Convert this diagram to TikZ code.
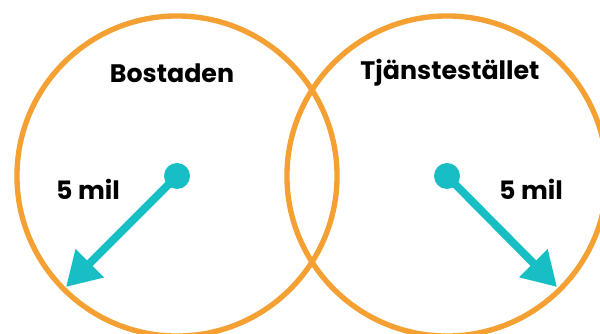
\documentclass[tikz,border=0pt]{standalone}
\usepackage{fontspec}
\setmainfont{Poppins}
\usetikzlibrary{arrows.meta}
\definecolor{ringorange}{HTML}{F5A033}
\definecolor{radiusteal}{HTML}{17BEC4}
\begin{document}
\begin{tikzpicture}[x=0.025cm,y=-0.025cm,font=\bfseries\fontsize{18}{21}\selectfont,line cap=round,line join=round]
  \clip (0,0) rectangle (600,334);

  % The two search areas around home and workplace.
  \node[draw=ringorange,line width=3.8pt,circle,minimum size=8cm] (homering) at (177,176) {};
  \node[draw=ringorange,line width=3.8pt,circle,minimum size=8cm] (workring) at (447,176) {};

  \node (hometitle) at (172,73) {Bostaden};
  \node (worktitle) at (450,73) {Tjänstestället};

  % Radius arrows from the centre dots.
  \node[fill=radiusteal,circle,minimum size=0.65cm,inner sep=0pt] (homedot) at (177,176) {};
  \node[fill=radiusteal,circle,minimum size=0.65cm,inner sep=0pt] (workdot) at (447,176) {};
  \coordinate (hometip) at (66,287);
  \coordinate (worktip) at (557,287);
  \draw[radiusteal,line width=5.6pt,line cap=butt,-{Triangle[length=0.84cm,width=0.95cm]}] (homedot.center)--(hometip);
  \draw[radiusteal,line width=5.6pt,line cap=butt,-{Triangle[length=0.84cm,width=0.95cm]}] (workdot.center)--(worktip);

  \node (homedist) at (88,189) {5 mil};
  \node (workdist) at (531,189) {5 mil};
\end{tikzpicture}
\end{document}
